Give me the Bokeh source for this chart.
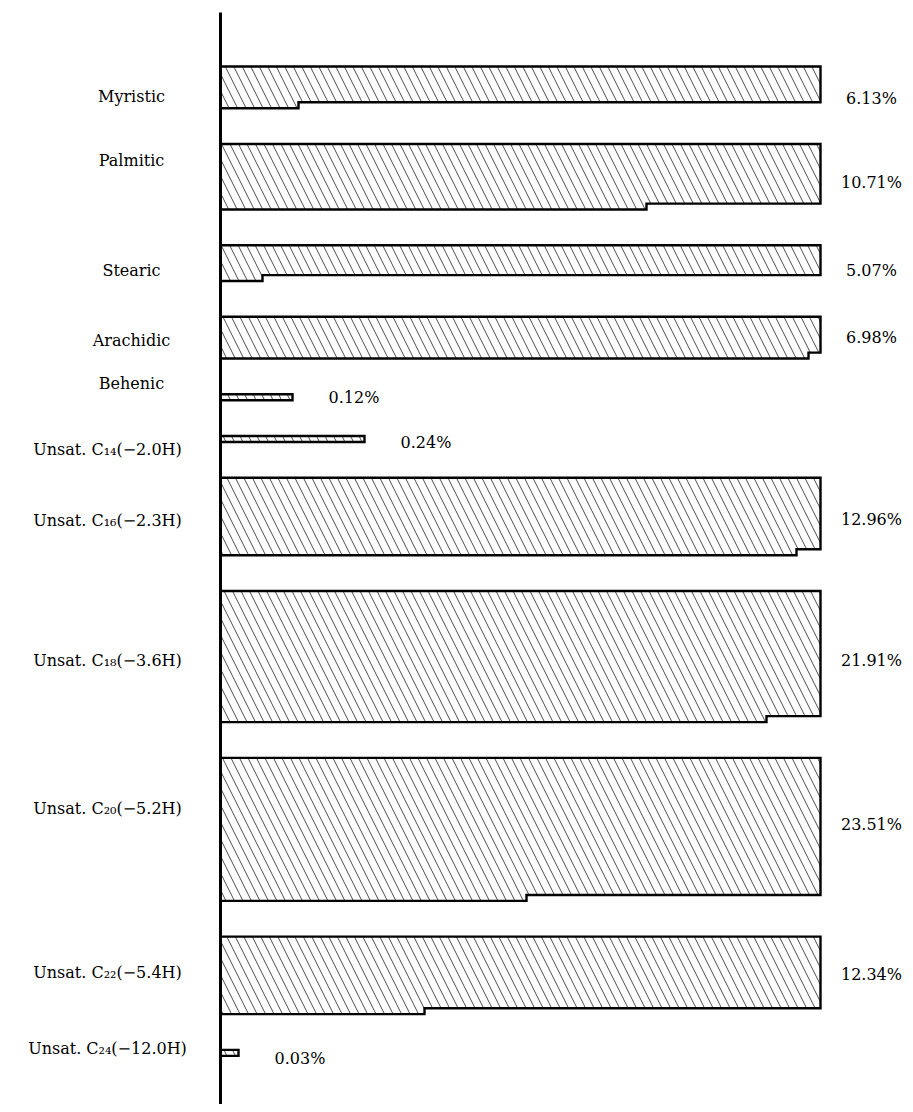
import math
from bokeh.plotting import figure
from bokeh.models import Range1d, ColumnDataSource
from bokeh.embed import file_html
from bokeh.resources import INLINE
from bokeh.core.properties import value

# ---------------- data ----------------
acids = ["Myristic", "Palmitic", "Stearic", "Arachidic", "Behenic",
         "Unsat. C₁₄(−2.0H)", "Unsat. C₁₆(−2.3H)", "Unsat. C₁₈(−3.6H)",
         "Unsat. C₂₀(−5.2H)", "Unsat. C₂₂(−5.4H)", "Unsat. C₂₄(−12.0H)"]
saturated = [True, True, True, True, True, False, False, False, False, False, False]
percent = [6.13, 10.71, 5.07, 6.98, 0.12, 0.24, 12.96, 21.91, 23.51, 12.34, 0.03]
percent_labels = ["6.13%", "10.71%", "5.07%", "6.98%", "0.12%", "0.24%",
                  "12.96%", "21.91%", "23.51%", "12.34%", "0.03%"]

# ---------------- layout (pixels of the page) ----------------
W, H = 905, 1104
ORIGIN = 0               # page offset of the figure
PX_PER_PCT = 600.0       # one full-width row = 1 %
ROW_PX = 5.96            # height of one row
GAP_ROWS = 6             # gap between bars, in rows
AXIS_PX = 220            # page x of the baseline
TOP_PX = 66              # page y of first bar top
name_dy_px = [9, -16, 7, 3, -14, 10, 4, 4, -21, -3, -4]
pct_dy_px = [11, 6, 7, 0, 0, 3, 3, 4, -5, -1, 6]

def xd(px):
    return (px - AXIS_PX) / PX_PER_PCT

def yd(px):
    return (px - TOP_PX) / ROW_PX

p = figure(width=W, height=H, output_backend="svg", toolbar_location=None,
           x_range=Range1d(xd(ORIGIN), xd(ORIGIN + W)),
           y_range=Range1d(yd(ORIGIN + H), yd(ORIGIN)),
           x_axis_location=None, y_axis_location=None,
           min_border=0, outline_line_color=None,
           background_fill_color="white", border_fill_color="white")
p.grid.visible = False

xs, ys, centers = [], [], []
top = 0.0
for v in percent:
    n = math.floor(v)
    f = v - n
    if n >= 1:
        xs.append([0, 1, 1, f, f, 0])
        ys.append([top, top, top + n, top + n, top + n + 1, top + n + 1])
    else:
        xs.append([0, f, f, 0])
        ys.append([top, top, top + 1, top + 1])
    rows = n + 1
    centers.append(top + rows / 2.0)
    top += rows + GAP_ROWS

p.patches(xs=xs, ys=ys, fill_color="white", line_color="black", line_width=2.4,
          line_join="miter", hatch_pattern="\\", hatch_color="black",
          hatch_weight=0.7, hatch_scale=17)

# baseline
p.segment(x0=[0], y0=[yd(12)], x1=[0], y1=[yd(ORIGIN + H + 10)], line_color="black", line_width=3)

# names
font = value("DejaVu Serif")
nx, ny, nt = [], [], []
for name, sat, c, dy in zip(acids, saturated, centers, name_dy_px):
    nx.append(xd(131) if sat else xd(107))
    ny.append(c + dy / ROW_PX)
    nt.append(name)
src_n = ColumnDataSource(dict(x=nx, y=ny, t=nt))
p.text(x="x", y="y", text="t", source=src_n, text_font=font, text_font_size="16px",
       text_align="center", text_baseline="middle", text_color="black")

# percent labels
bx, by, bt, sx, sy, st = [], [], [], [], [], []
for v, lab, c, dy in zip(percent, percent_labels, centers, pct_dy_px):
    if v >= 1:
        bx.append(xd(871)); by.append(c + dy / ROW_PX); bt.append(lab)
    else:
        sx.append(v + 36 / PX_PER_PCT); sy.append(c + dy / ROW_PX); st.append(lab)
p.text(x=bx, y=by, text=bt, text_font=font, text_font_size="16px",
       text_align="center", text_baseline="middle", text_color="black")
p.text(x=sx, y=sy, text=st, text_font=font, text_font_size="16px",
       text_align="left", text_baseline="middle", text_color="black")

open("out.html", "w").write(file_html(p, INLINE))
